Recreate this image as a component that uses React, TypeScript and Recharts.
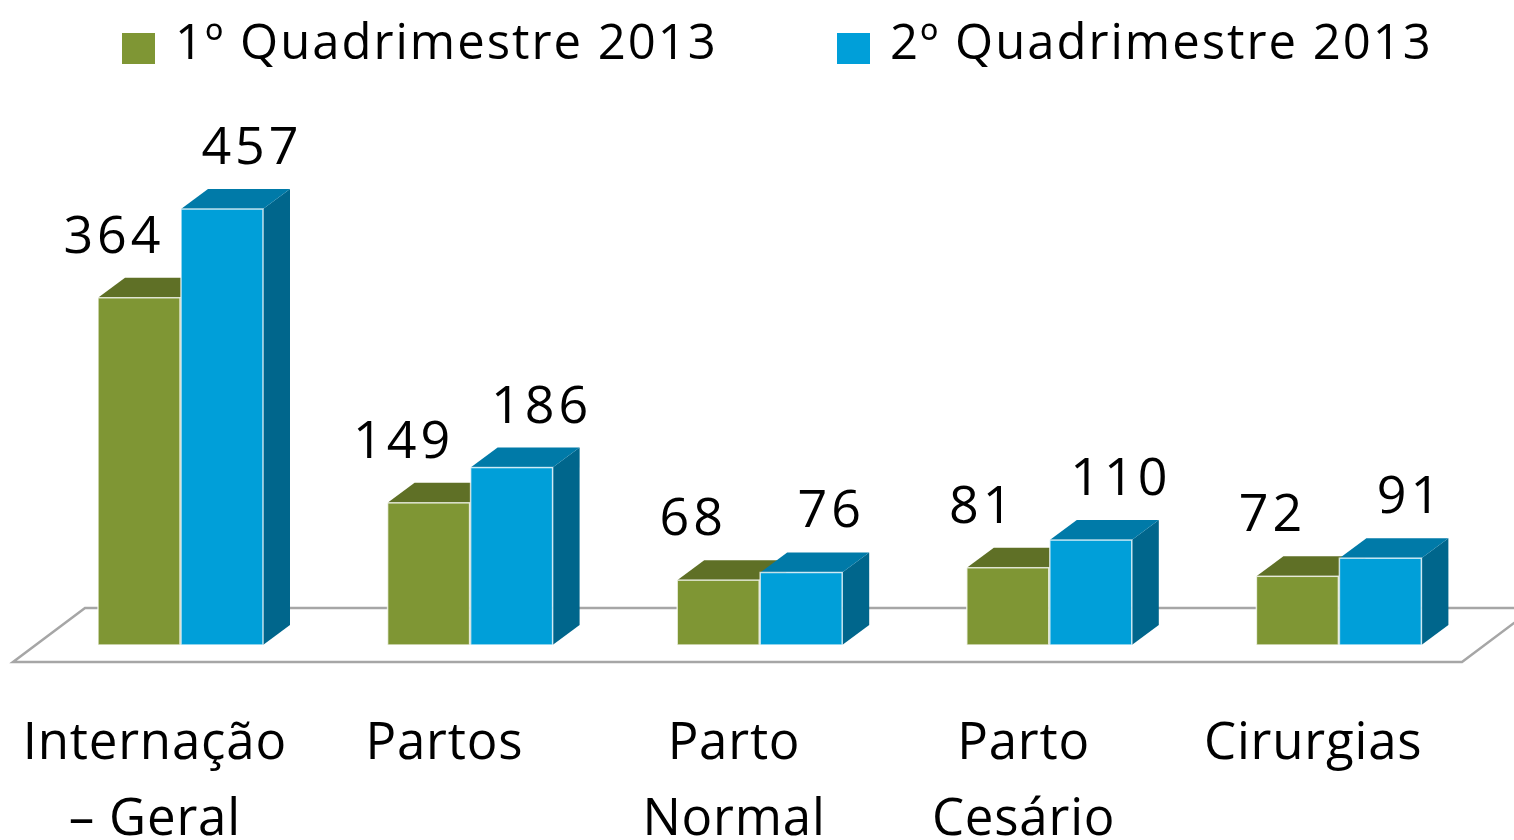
import { BarChart, Bar, XAxis, YAxis, LabelList, ReferenceLine } from 'recharts'

const categories = ['Internação - Geral', 'Partos', 'Parto Normal', 'Parto Cesário', 'Cirurgias']
const categoryLines = [['Internação', '– Geral'], ['Partos'], ['Parto', 'Normal'], ['Parto', 'Cesário'], ['Cirurgias']]
const seriesNames = ['1º Quadrimestre 2013', '2º Quadrimestre 2013']
const q1 = [364, 149, 68, 81, 72]
const q2 = [457, 186, 76, 110, 91]

const data = categories.map((name, i) => ({ name, lines: categoryLines[i], q1: q1[i], q2: q2[i] }))

const FONT = '"Open Sans", "DejaVu Sans", sans-serif'
const DX = 27
const DY = -20

const GREEN = { front: '#7f9634', top: '#5f7026', side: '#4f5e1f' }
const BLUE = { front: '#009fd9', top: '#007aa8', side: '#00668c' }

function Bar3D(props: any) {
  const { x, y, width, height, colors } = props
  if (!height) return null
  const r = x + width
  const b = y + height
  return (
    <g>
      <polygon points={`${r},${y} ${r + DX},${y + DY} ${r + DX},${b + DY} ${r},${b}`} fill={colors.side} />
      <polygon points={`${x},${y} ${x + DX},${y + DY} ${r + DX},${y + DY} ${r},${y}`} fill={colors.top} />
      <rect x={x} y={y} width={width} height={height} fill={colors.front} stroke="#ffffff" strokeOpacity={0.75} strokeWidth={1.5} />
    </g>
  )
}

function makeLabel(shift: number) {
  return (p: any) => {
    const { x, y, width, value } = p
    return (
      <text
        x={x + width / 2 + shift}
        y={y - 45}
        textAnchor="middle"
        fontFamily={FONT}
        fontSize={52}
        letterSpacing={4}
        fill="#000"
      >
        {value}
      </text>
    )
  }
}

function CategoryTick(props: any) {
  const { x, y, index } = props
  const lines = categoryLines[index] || []
  return (
    <g>
      {lines.map((line, i) => (
        <text
          key={i}
          x={x - 26}
          y={y + 114 + i * 76}
          textAnchor="middle"
          fontFamily={FONT}
          fontSize={51}
          letterSpacing={0.8}
          fill="#000"
        >
          {line}
        </text>
      ))}
    </g>
  )
}

function Floor(p: any) {
  const { x1, y1, x2 } = p
  const pts = [
    [x1 - 23, y1 + 17],
    [x2 - 22, y1 + 17],
    [x2 + 50, y1 - 37],
    [x1 + 49, y1 - 37],
  ]
  return <polygon points={pts.map((q) => q.join(',')).join(' ')} fill="none" stroke="#a6a6a6" strokeWidth={2.5} />
}

export default function App() {
  const legendColors = [GREEN.front, BLUE.front]
  const legendLeft = [122, 837]
  return (
    <div style={{ position: 'absolute', left: 0, top: 0, width: 1514, height: 840, background: '#fff', fontFamily: FONT }}>
      {seriesNames.map((s, i) => (
        <div key={s} style={{ position: 'absolute', top: 0, left: legendLeft[i], height: 80, display: 'flex', alignItems: 'center' }}>
          <span style={{ width: 33, height: 31, background: legendColors[i], display: 'inline-block', marginTop: 16, marginRight: 20 }} />
          <span style={{ fontSize: 49, letterSpacing: 2, color: '#000', lineHeight: 1, whiteSpace: 'nowrap' }}>{s}</span>
        </div>
      ))}
      <BarChart
        width={1514}
        height={840}
        data={data}
        margin={{ top: 168, right: 30, bottom: 0, left: 36 }}
        barSize={82}
        barGap={1}
      >
        <XAxis dataKey="name" height={195} axisLine={false} tickLine={false} tickSize={0} tickMargin={0} tick={<CategoryTick />} interval={0} />
        <YAxis hide domain={[0, 500]} />
        <ReferenceLine y={0} shape={Floor} zIndex={-1} />
        <Bar dataKey="q1" name={seriesNames[0]} isAnimationActive={false} shape={(p: any) => <Bar3D {...p} colors={GREEN} />}>
          <LabelList dataKey="q1" content={makeLabel(-25)} />
        </Bar>
        <Bar dataKey="q2" name={seriesNames[1]} isAnimationActive={false} shape={(p: any) => <Bar3D {...p} colors={BLUE} />}>
          <LabelList dataKey="q2" content={makeLabel(30)} />
        </Bar>
      </BarChart>
    </div>
  )
}
